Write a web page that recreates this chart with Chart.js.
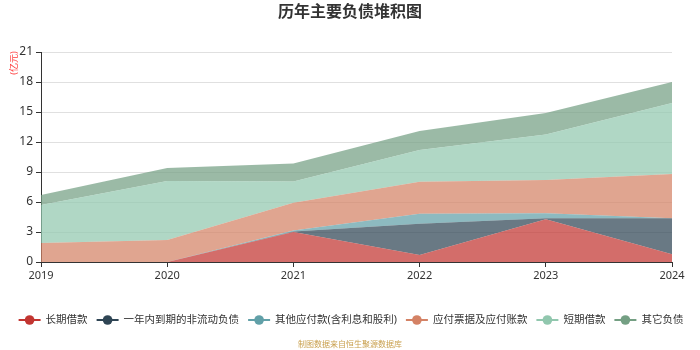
<!DOCTYPE html>
<html>
<head>
<meta charset="utf-8">
<script src="https://cdn.jsdelivr.net/npm/chart.js@4"></script>
<style>
  html, body { margin: 0; padding: 0; background: #fff; }
  #box { width: 700px; height: 350px; }
</style>
</head>
<body>
<div id="box"><canvas id="debt"></canvas></div>
<script>
// categories + series (亿元)
const years = ["2019", "2020", "2021", "2022", "2023", "2024"];
const longLoan = [0, 0, 3.0, 0.7, 4.27, 0.77];          // 长期借款
const dueInYear = [0, 0, 0.05, 3.13, 0.1, 3.6];         // 一年内到期的非流动负债
const otherPayable = [0, 0, 0.1, 1.0, 0.5, 0.0];        // 其他应付款(含利息和股利)
const billsPayable = [1.9, 2.2, 2.77, 3.2, 3.33, 4.43]; // 应付票据及应付账款
const shortLoan = [3.8, 5.9, 2.13, 3.17, 4.55, 7.1];    // 短期借款
const otherDebt = [1.0, 1.3, 1.8, 1.9, 2.15, 2.1];      // 其它负债
const yTicks = [0, 3, 6, 9, 12, 15, 18, 21];

const names = ["长期借款", "一年内到期的非流动负债", "其他应付款(含利息和股利)", "应付票据及应付账款", "短期借款", "其它负债"];
const colors = ["#c23531", "#2f4554", "#61a0a8", "#d48265", "#91c7ae", "#749f83"];
const series = [longLoan, dueInYear, otherPayable, billsPayable, shortLoan, otherDebt];

const FONT = "'Noto Sans', 'Noto Sans CJK SC', sans-serif";
Chart.defaults.font.family = FONT;

function hexA(hex, a) {
  const n = parseInt(hex.slice(1), 16);
  return `rgba(${(n >> 16) & 255}, ${(n >> 8) & 255}, ${n & 255}, ${a})`;
}

const datasets = series.map((d, i) => ({
  label: names[i],
  data: d,
  fill: i === 0 ? "origin" : "-1",
  backgroundColor: hexA(colors[i], 0.72),
  borderColor: "transparent",
  borderWidth: 0,
  pointRadius: 0,
  tension: 0,
}));

// title, unit, source and the echarts-like legend (line + dot)
const extras = {
  id: "extras",
  afterDraw(chart) {
    const ctx = chart.ctx;
    ctx.save();
    ctx.textAlign = "center";
    ctx.textBaseline = "middle";
    ctx.fillStyle = "#333";
    ctx.font = "bold 16px " + FONT;
    ctx.fillText("历年主要负债堆积图", 350, 12);

    ctx.fillStyle = "#c9a04e";
    ctx.font = "8px " + FONT;
    ctx.fillText("制图数据来自恒生聚源数据库", 350, 345);

    // legend
    ctx.font = "10.5px " + FONT;
    const iconW = 22, gap = 5, itemGap = 9, ly = 320;
    const widths = names.map(n => ctx.measureText(n).width);
    let total = widths.reduce((a, b) => a + b, 0) + names.length * (iconW + gap) + (names.length - 1) * itemGap;
    let x = 351 - total / 2;
    ctx.textAlign = "left";
    names.forEach((n, i) => {
      ctx.strokeStyle = colors[i];
      ctx.fillStyle = colors[i];
      ctx.lineWidth = 2;
      ctx.beginPath(); ctx.moveTo(x, ly); ctx.lineTo(x + iconW, ly); ctx.stroke();
      ctx.beginPath(); ctx.arc(x + iconW / 2, ly, 4.8, 0, Math.PI * 2); ctx.fill();
      ctx.fillStyle = "#333";
      ctx.fillText(n, x + iconW + gap, ly);
      x += iconW + gap + widths[i] + itemGap;
    });

    ctx.translate(14, 63);
    ctx.rotate(-Math.PI / 2);
    ctx.textAlign = "center";
    ctx.fillStyle = "#ff3b3b";
    ctx.font = "9px " + FONT;
    ctx.fillText("(亿元)", 0, 0);
    ctx.restore();
  }
};

new Chart(document.getElementById("debt"), {
  type: "line",
  data: { labels: years, datasets: datasets },
  plugins: [extras],
  options: {
    responsive: true,
    maintainAspectRatio: false,
    animation: false,
    layout: { padding: { top: 52, right: 28, bottom: 47, left: 0 } },
    plugins: {
      tooltip: { enabled: false },
      legend: { display: false }
    },
    scales: {
      x: {
        offset: false,
        afterFit(s) { s.height = 41; },
        border: { color: "#333" },
        grid: { drawOnChartArea: false, drawTicks: true, tickLength: 5, tickColor: "#333" },
        ticks: { color: "#333", font: { size: 11 }, padding: 2, maxRotation: 0 },
      },
      y: {
        stacked: true,
        min: 0,
        max: 21,
        afterFit(s) { s.width = 41; },
        afterBuildTicks(s) { s.ticks = yTicks.map(v => ({ value: v })); },
        border: { color: "#333" },
        grid: { color: "#e0e0e0", drawTicks: true, tickLength: 5, tickColor: "#333" },
        ticks: { color: "#333", font: { size: 12 }, padding: 3 },
      }
    }
  }
});
</script>
</body>
</html>
